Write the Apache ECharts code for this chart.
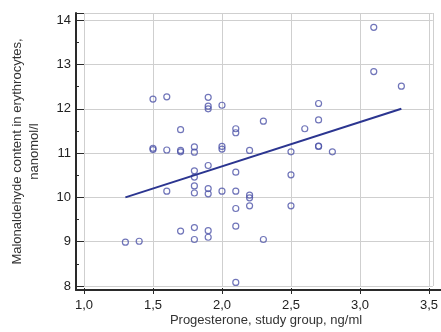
<!DOCTYPE html>
<html>
<head>
<meta charset="utf-8">
<script src="https://cdn.jsdelivr.net/npm/echarts@6/dist/echarts.min.js"></script>
<style>
html,body{margin:0;padding:0;background:#fff;}
#chart{width:441px;height:332px;}
</style>
</head>
<body>
<div id="chart"></div>
<script>
// Progesterone (ng/ml), study group
var progesterone = [3.1,3.1,3.3,1.5,1.6,1.9,1.9,1.9,2.0,2.7,2.3,2.7,1.7,2.1,2.1,2.6,1.5,1.5,1.6,1.7,1.7,1.8,1.8,2.0,2.0,2.2,2.5,2.7,2.7,2.8,1.9,1.8,1.8,2.1,2.5,1.6,1.8,1.8,1.9,1.9,2.0,2.1,2.2,2.2,2.2,2.5,2.1,1.7,1.8,1.9,1.9,1.8,2.1,2.3,1.3,1.4,2.1];
// Malonaldehyde content in erythrocytes (nanomol/l)
var malonaldehyde = [13.84,12.84,12.51,12.22,12.27,12.26,12.06,12.0,12.08,12.12,11.72,11.75,11.53,11.55,11.46,11.55,11.11,11.08,11.07,11.06,11.03,11.14,11.02,11.15,11.09,11.06,11.03,11.16,11.15,11.03,10.72,10.60,10.46,10.57,10.51,10.14,10.26,10.10,10.20,10.08,10.14,10.14,10.05,9.99,9.81,9.81,9.75,9.24,9.32,9.25,9.10,9.05,9.35,9.05,8.99,9.01,8.08];
// Regression line end points
var fitX = [1.3, 3.3];
var fitY = [10.0, 12.0];
// Axis tick settings
var xTickStep = 0.5;
var yTickStep = 1;

var pts = progesterone.map(function (x, i) { return [x, malonaldehyde[i]]; });
var fit = fitX.map(function (x, i) { return [x, fitY[i]]; });

var font = 'Liberation Sans, Arial, sans-serif';
var chart = echarts.init(document.getElementById('chart'), null, {renderer: 'canvas'});
chart.setOption({
  animation: false,
  backgroundColor: '#ffffff',
  grid: [
    {left: 76, right: 0, top: 13, bottom: 38},
    {left: 84, right: 0, top: 13, bottom: 46}
  ],
  xAxis: [
    {
      gridIndex: 0, type: 'value', min: 0, max: 1,
      axisLine: {show: true, lineStyle: {color: '#2a2a2a', width: 2}},
      axisTick: {show: false}, axisLabel: {show: false}, splitLine: {show: false},
      name: 'Progesterone, study group, ng/ml', nameLocation: 'middle', nameGap: 24,
      nameTextStyle: {fontFamily: font, fontSize: 13, color: '#333', padding: [0, 0, 0, 15]}
    },
    {
      gridIndex: 1, type: 'value', min: 1.0, max: 3.528, interval: xTickStep, offset: 8,
      axisLine: {show: false},
      axisTick: {show: true, inside: true, length: 6, lineStyle: {color: '#2a2a2a', width: 1}},
      axisLabel: {fontFamily: font, fontSize: 13, color: '#222', margin: 5,
        formatter: function (v) { return v.toFixed(1).replace('.', ','); }},
      splitLine: {show: true, lineStyle: {color: '#cfcfcf', width: 1}}
    }
  ],
  yAxis: [
    {
      gridIndex: 0, type: 'value', min: 0, max: 1,
      axisLine: {show: true, lineStyle: {color: '#2a2a2a', width: 2}},
      axisTick: {show: false}, axisLabel: {show: false}, splitLine: {show: false},
      name: 'Malonaldehyde content in erythrocytes,\nnanomol/l', nameLocation: 'middle', nameGap: 33,
      nameRotate: 90,
      nameTextStyle: {fontFamily: font, fontSize: 13, color: '#333', lineHeight: 17}
    },
    {
      gridIndex: 1, type: 'value', min: 8, max: 14.163, interval: yTickStep, offset: 8,
      axisLine: {show: false},
      axisTick: {show: true, inside: true, length: 8, lineStyle: {color: '#2a2a2a', width: 1}},
      minorTick: {show: true, splitNumber: 2, length: 3, lineStyle: {color: '#2a2a2a', width: 1}},
      axisLabel: {fontFamily: font, fontSize: 13, color: '#222', margin: 5},
      splitLine: {show: true, lineStyle: {color: '#cfcfcf', width: 1}}
    }
  ],
  series: [
    {
      type: 'scatter', xAxisIndex: 1, yAxisIndex: 1, data: pts,
      symbol: 'circle', symbolSize: 6,
      itemStyle: {color: 'rgba(0,0,0,0)', borderColor: '#4c52a8', borderWidth: 1.2}
    },
    {
      type: 'line', xAxisIndex: 1, yAxisIndex: 1, data: fit,
      symbol: 'none', lineStyle: {color: '#2b3590', width: 2}
    }
  ]
});
</script>
</body>
</html>
